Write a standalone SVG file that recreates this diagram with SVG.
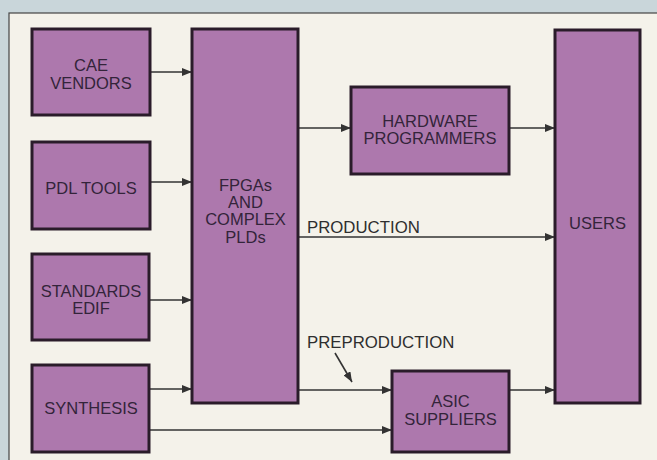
<svg xmlns="http://www.w3.org/2000/svg" width="657" height="460" viewBox="0 0 657 460">
<defs>
<style>
.box{fill:#ad78ad;stroke:#2a1c2a;stroke-width:3}
.t{font-family:"Liberation Sans",Arial,sans-serif;font-size:16.5px;fill:#33243a;text-anchor:middle}
.lbl{font-family:"Liberation Sans",Arial,sans-serif;font-size:16.8px;fill:#2e2e2e}
.c{stroke:#333;stroke-width:1.6;fill:none;marker-end:url(#ah)}
</style>
<marker id="ah" viewBox="0 0 10 8" refX="10" refY="4" markerWidth="10" markerHeight="8" markerUnits="userSpaceOnUse" orient="auto">
<path d="M0,0 L10,4 L0,8 Z" fill="#333"/>
</marker>
</defs>
<rect x="0" y="0" width="657" height="460" fill="#c9d6da"/>
<rect x="9" y="13" width="660" height="460" fill="#f4f2ea" stroke="#444" stroke-width="1.2"/>
<g id="connectors">
<line class="c" x1="150" y1="72" x2="192" y2="72"/>
<line class="c" x1="150" y1="182" x2="192" y2="182"/>
<line class="c" x1="149" y1="300" x2="192" y2="300"/>
<line class="c" x1="149" y1="389" x2="192" y2="389"/>
<line class="c" x1="298" y1="128" x2="351" y2="128"/>
<line class="c" x1="509" y1="128" x2="555" y2="128"/>
<line class="c" x1="298" y1="237" x2="555" y2="237"/>
<line class="c" x1="298" y1="390" x2="392" y2="390"/>
<line class="c" x1="149" y1="430" x2="392" y2="430"/>
<line class="c" x1="509" y1="390" x2="555" y2="390"/>
<line class="c" x1="335" y1="353" x2="352" y2="382"/>
<text class="lbl" x="307" y="232.5">PRODUCTION</text>
<text class="lbl" x="307" y="347.5">PREPRODUCTION</text>
</g>
<g id="cae"><rect class="box" x="32" y="29" width="118" height="86"/><text class="t" x="91" y="71">CAE</text><text class="t" x="91" y="88.5">VENDORS</text></g>
<g id="pdl"><rect class="box" x="32" y="142" width="118" height="87"/><text class="t" x="91" y="194">PDL TOOLS</text></g>
<g id="standards"><rect class="box" x="32" y="254" width="117" height="86"/><text class="t" x="91" y="296.5">STANDARDS</text><text class="t" x="91" y="313.5">EDIF</text></g>
<g id="synthesis"><rect class="box" x="32" y="365" width="117" height="87"/><text class="t" x="91" y="414">SYNTHESIS</text></g>
<g id="fpga"><rect class="box" x="192" y="29" width="106" height="374"/><text class="t" x="245.5" y="190.5">FPGAs</text><text class="t" x="245.5" y="207.5">AND</text><text class="t" x="245.5" y="225">COMPLEX</text><text class="t" x="245.5" y="243">PLDs</text></g>
<g id="hw"><rect class="box" x="351" y="87" width="158" height="87"/><text class="t" x="430" y="126.5">HARDWARE</text><text class="t" x="430" y="144">PROGRAMMERS</text></g>
<g id="users"><rect class="box" x="555" y="30" width="85" height="373"/><text class="t" x="597.5" y="229">USERS</text></g>
<g id="asic"><rect class="box" x="392" y="371" width="117" height="81"/><text class="t" x="450.5" y="407">ASIC</text><text class="t" x="450.5" y="425">SUPPLIERS</text></g>
</svg>
